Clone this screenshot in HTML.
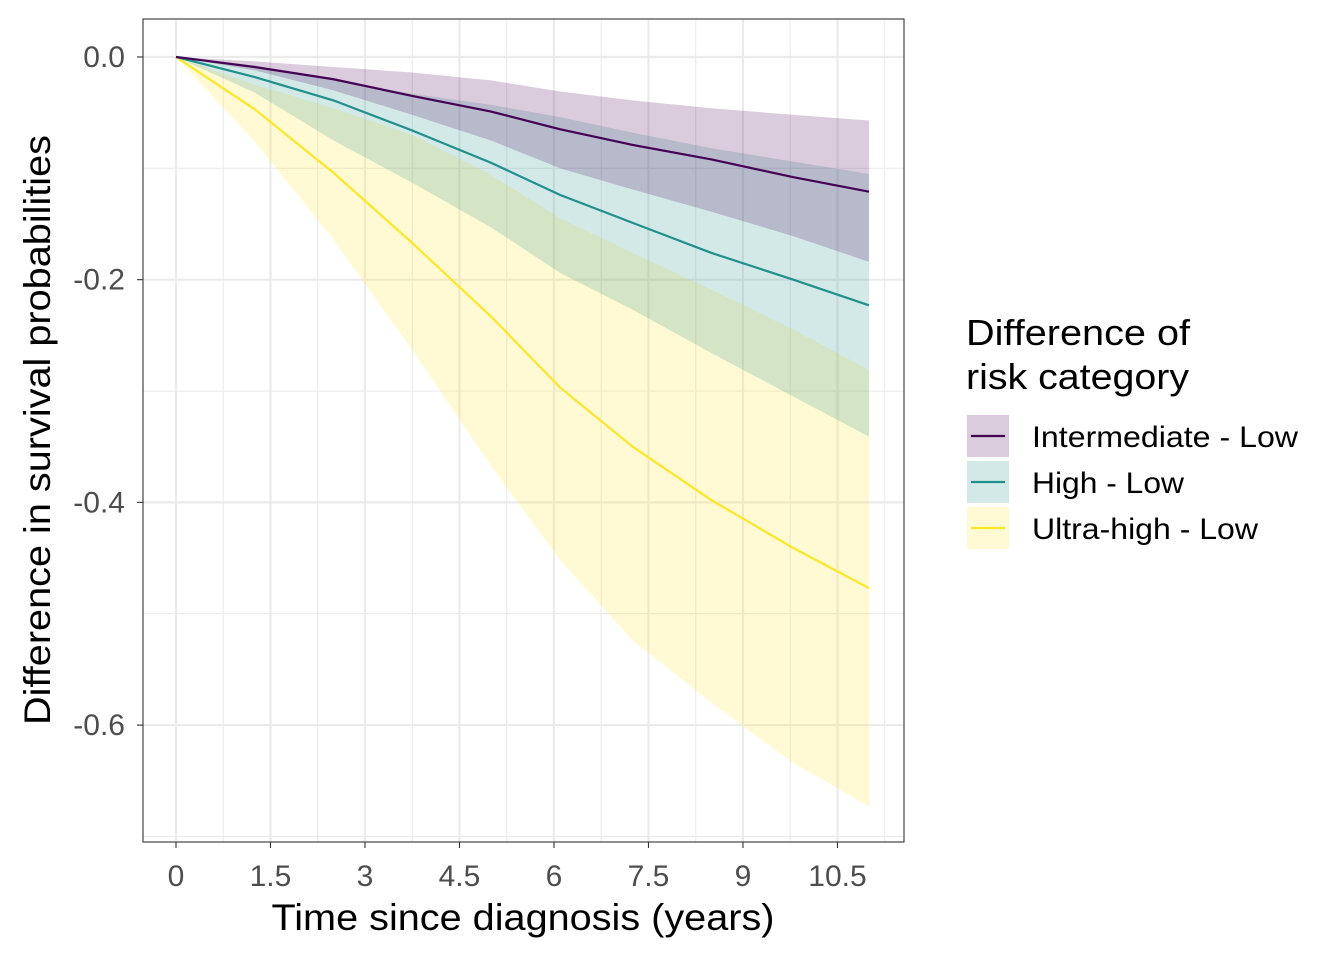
<!DOCTYPE html>
<html><head><meta charset="utf-8"><style>
body{margin:0;background:#fff;}
svg{display:block;font-family:"Liberation Sans",sans-serif;}
</style></head><body>
<svg id="chart" width="1344" height="960" viewBox="0 0 1344 960">
<rect x="0" y="0" width="1344" height="960" fill="#fff"/>
<g id="grid"></g>
<g id="bands"></g>
<g id="lines"></g>
<rect x="143" y="19" width="761" height="823" fill="none" stroke="#333" stroke-width="1.1"/>
<g id="axes"></g>
<text x="523" y="930" font-size="37" text-anchor="middle" textLength="503" lengthAdjust="spacingAndGlyphs" fill="#000">Time since diagnosis (years)</text>
<text transform="translate(50,430) rotate(-90)" font-size="37" text-anchor="middle" textLength="590" lengthAdjust="spacingAndGlyphs" fill="#000">Difference in survival probabilities</text>
<g>
<text x="966" y="345" font-size="36" textLength="224" lengthAdjust="spacingAndGlyphs" fill="#000">Difference of</text>
<text x="966" y="389" font-size="36" textLength="223" lengthAdjust="spacingAndGlyphs" fill="#000">risk category</text>
<g id="legendKeys"></g>
</g>
</svg>
<script>
const times=[0,1.25,2.5,3.75,5,6.1,7.25,8.5,9.8,11];
const seriesNames=["Intermediate - Low","High - Low","Ultra-high - Low"];
const intermEst=[0,-0.009,-0.020,-0.035,-0.049,-0.065,-0.079,-0.092,-0.108,-0.121];
const intermLo=[0,-0.012,-0.030,-0.052,-0.075,-0.100,-0.119,-0.139,-0.161,-0.184];
const intermHi=[0,-0.004,-0.009,-0.014,-0.021,-0.031,-0.039,-0.046,-0.052,-0.057];
const highEst=[0,-0.018,-0.039,-0.066,-0.095,-0.124,-0.149,-0.176,-0.200,-0.223];
const highLo=[0,-0.032,-0.075,-0.113,-0.153,-0.194,-0.227,-0.266,-0.305,-0.341];
const highHi=[0,-0.009,-0.020,-0.033,-0.043,-0.054,-0.068,-0.082,-0.094,-0.105];
const ultraEst=[0,-0.047,-0.104,-0.167,-0.233,-0.297,-0.350,-0.398,-0.441,-0.477];
const ultraLo=[0,-0.076,-0.164,-0.263,-0.367,-0.452,-0.524,-0.580,-0.634,-0.673];
const ultraHi=[0,-0.025,-0.046,-0.070,-0.106,-0.145,-0.176,-0.209,-0.245,-0.281];
const xTicks=[0,1.5,3,4.5,6,7.5,9,10.5];
const xTickLabels=["0","1.5","3","4.5","6","7.5","9","10.5"];
const yTicks=[0,-0.2,-0.4,-0.6];
const yTickLabels=["0.0","-0.2","-0.4","-0.6"];
const colors=["#440154","#21908C","#FDE725"];

const NS="http://www.w3.org/2000/svg";
const X0=143,X1=904,Y0=19,Y1=842;
const xMin=-0.5238,xMax=11.556,yMin=-0.705,yMax=0.0341;
function xs(t){return X0+(t-xMin)/(xMax-xMin)*(X1-X0);}
function ys(v){return Y1-(v-yMin)/(yMax-yMin)*(Y1-Y0);}
function mk(tag,attrs,parent){const e=document.createElementNS(NS,tag);for(const k in attrs)e.setAttribute(k,attrs[k]);parent.appendChild(e);return e;}

const grid=document.getElementById('grid');
for(let t=0.75;t<xMax;t+=1.5){const l=mk('line',{x1:xs(t),x2:xs(t),y1:Y0,y2:Y1,stroke:'#ebebeb','stroke-width':1.1},grid);

}
for(let v=-0.1;v>yMin;v-=0.2){const l=mk('line',{x1:X0,x2:X1,y1:ys(v),y2:ys(v),stroke:'#ebebeb','stroke-width':1.1},grid);

}
xTicks.forEach(t=>{const l=mk('line',{x1:xs(t),x2:xs(t),y1:Y0,y2:Y1,stroke:'#ebebeb','stroke-width':2.2},grid);

});
yTicks.forEach(v=>{const l=mk('line',{x1:X0,x2:X1,y1:ys(v),y2:ys(v),stroke:'#ebebeb','stroke-width':2.2},grid);

});

const bands=document.getElementById('bands'),lines=document.getElementById('lines');
const los=[intermLo,highLo,ultraLo],his=[intermHi,highHi,ultraHi],ests=[intermEst,highEst,ultraEst];
const keys=['intermediate','high','ultra-high'];
for(let s=2;s>=0;s--){
  let d='';times.forEach((t,i)=>{d+=(i?'L':'M')+xs(t)+','+ys(his[s][i]);});
  for(let i=times.length-1;i>=0;i--)d+='L'+xs(times[i])+','+ys(los[s][i]);
  const p=mk('path',{d:d+'Z',fill:colors[s],'fill-opacity':0.2},bands);
  
  
}
for(let s=2;s>=0;s--){
  const pts=times.map((t,i)=>xs(t)+','+ys(ests[s][i])).join(' ');
  const l=mk('polyline',{points:pts,fill:'none',stroke:colors[s],'stroke-width':2.2},lines);
  
  
}
const axes=document.getElementById('axes');
xTicks.forEach((t,i)=>{
  const tk=mk('line',{x1:xs(t),x2:xs(t),y1:Y1,y2:Y1+6,stroke:'#333','stroke-width':1.1},axes);
  
  
  const tx=mk('text',{x:xs(t),y:886,'font-size':30,'text-anchor':'middle',fill:'#4d4d4d'},axes);
  tx.textContent=xTickLabels[i];
  
  
});
yTicks.forEach((v,i)=>{
  const tk=mk('line',{x1:X0-6,x2:X0,y1:ys(v),y2:ys(v),stroke:'#333','stroke-width':1.1},axes);
  
  
  const tx=mk('text',{x:125,y:ys(v)+10,'font-size':30,'text-anchor':'end',fill:'#4d4d4d'},axes);
  tx.textContent=yTickLabels[i];
  
  
});
const lk=document.getElementById('legendKeys');
const legendLens=[266,152,226];
seriesNames.forEach((n,i)=>{
  const y=415+i*46;
  const r=mk('rect',{x:967,y:y,width:42,height:42,fill:colors[i],'fill-opacity':0.2},lk);
  
  
  const l=mk('line',{x1:971,x2:1005,y1:y+21,y2:y+21,stroke:colors[i],'stroke-width':2.2},lk);
  
  
  const t=mk('text',{x:1032,y:y+32,'font-size':30,fill:'#000',textLength:legendLens[i],lengthAdjust:'spacingAndGlyphs'},lk);
  t.textContent=n;
  
  
});
</script>
</body></html>
